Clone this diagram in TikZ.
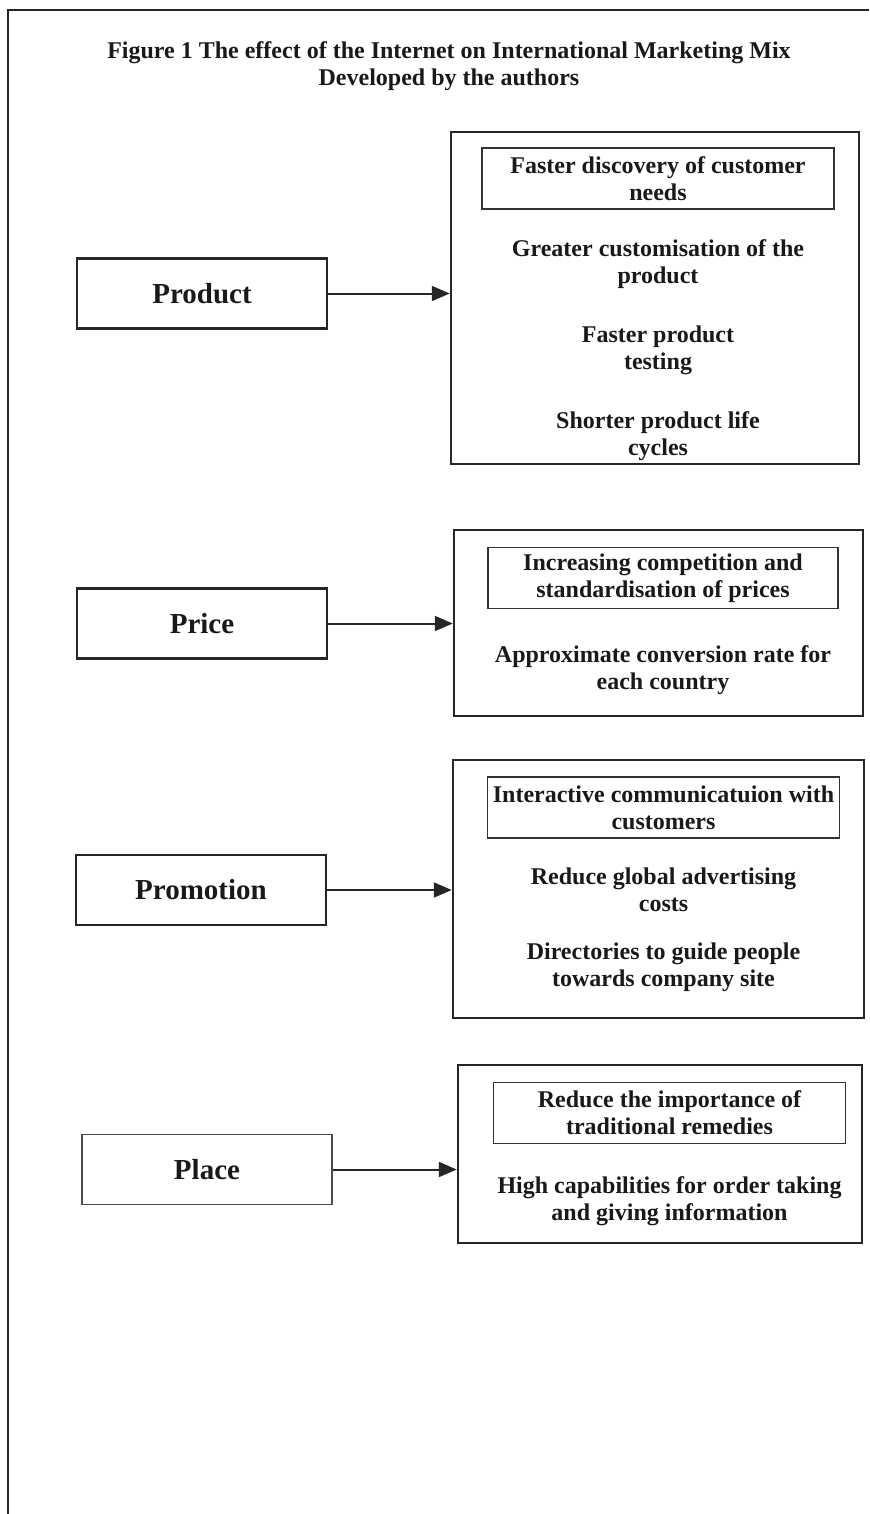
\documentclass[tikz,border=0pt]{standalone}
\usepackage{fontspec}
\setmainfont{Liberation Serif}
\usetikzlibrary{arrows.meta}

\begin{document}
\begin{tikzpicture}[x=0.5pt, y=-0.5pt,
        every node/.style={font=\fontsize{12}{13.5}\selectfont\bfseries, text=black!90, align=center},
        mix/.style={draw=black!85, line width=1.25pt, minimum width=125pt, minimum height=35pt, font=\fontsize{14.5}{16}\selectfont\bfseries},
        effects/.style={draw=black!85, line width=1.25pt},
        lead/.style={draw=black!80, line width=0.6pt, minimum width=176pt, minimum height=30.5pt, inner sep=0pt},
        push/.style={draw=black!85, line width=1pt, -{Triangle[length=9pt, width=7.5pt]}}]
        \useasboundingbox (0,0) rectangle (869,1514);
        \draw [black!85, line width=1.2pt] (8,1514) -- (8,10) -- (869,10);

        \node (title) at (449,66.5) {Figure 1 The effect of the Internet on International Marketing Mix\\Developed by the authors};

        \node [mix] (product) at (202,293.5) {Product};
        \node [mix] (price) at (202,623.5) {Price};
        \node [mix] (promotion) at (201,890) {Promotion};
        \node [mix, draw=black!70, line width=0.6pt] (place) at (207,1169.5) {Place};

        \node [effects, minimum width=204pt, minimum height=166pt] (productfx) at (655,298) {};
        \node [effects, minimum width=204.5pt, minimum height=93pt] (pricefx) at (658.5,623) {};
        \node [effects, minimum width=205.5pt, minimum height=129pt] (promotionfx) at (658.5,889) {};
        \node [effects, minimum width=202pt, minimum height=89pt] (placefx) at (660,1154) {};

        \node [lead] (pd1) at (658,178.5) {Faster discovery of customer\\needs};
        \node [below of=pd1, node distance=43pt] (pd2) {Greater customisation of the\\product};
        \node [below of=pd2, node distance=43pt] (pd3) {Faster product\\testing};
        \node [below of=pd3, node distance=43pt] (pd4) {Shorter product life\\cycles};

        \node [lead, minimum width=175pt] (pr1) at (663,578) {Increasing competition and\\standardisation of prices};
        \node [below of=pr1, node distance=46pt] (pr2) {Approximate conversion rate for\\each country};

        \node [lead] (pm1) at (663.5,807.5) {Interactive communicatuion with\\customers};
        \node [below of=pm1, node distance=41pt] (pm2) {Reduce global advertising\\costs};
        \node [below of=pm2, node distance=39pt] (pm3) {Directories to guide people\\towards company site};

        \node [lead] (pl1) at (669.5,1113) {Reduce the importance of\\traditional remedies};
        \node [below of=pl1, node distance=44pt] (pl2) {High capabilities for order taking\\and giving information};

        \draw [push] (product) -- (product -| productfx.west);
        \draw [push] (price) -- (price -| pricefx.west);
        \draw [push] (promotion) -- (promotion -| promotionfx.west);
        \draw [push] (place) -- (place -| placefx.west);
      \end{tikzpicture}
\end{document}
